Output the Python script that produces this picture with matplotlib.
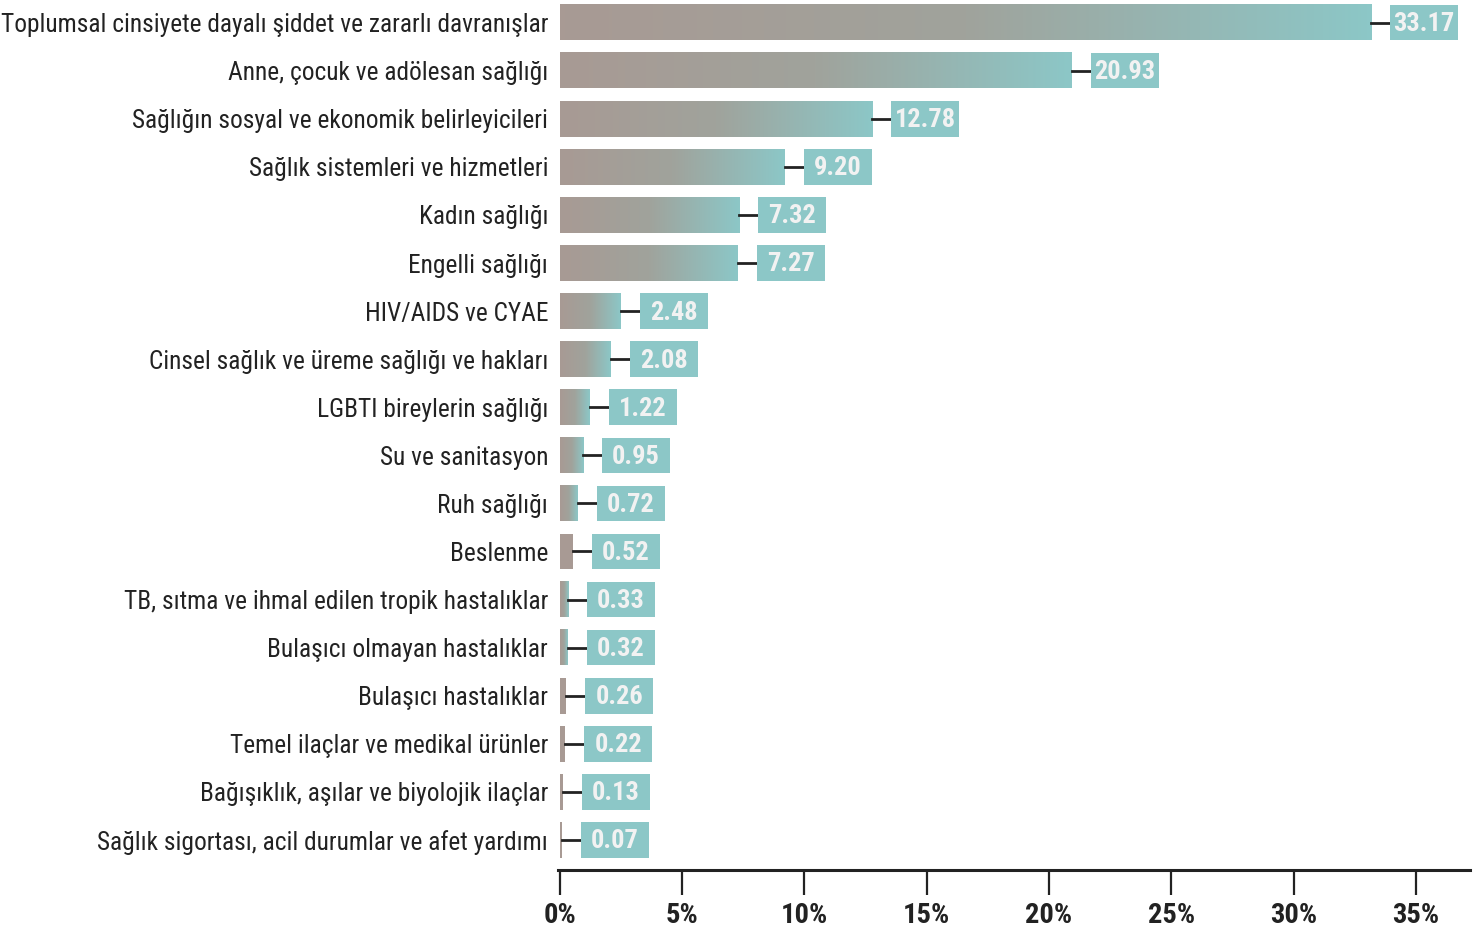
import matplotlib
matplotlib.use("Agg")
import matplotlib.pyplot as plt
import numpy as np
from matplotlib.colors import LinearSegmentedColormap
from matplotlib.patches import Rectangle

plt.rcParams['font.family'] = ['Roboto Condensed', 'DejaVu Sans']

categories = [
    "Toplumsal cinsiyete dayalı şiddet ve zararlı davranışlar",
    "Anne, çocuk ve adölesan sağlığı",
    "Sağlığın sosyal ve ekonomik belirleyicileri",
    "Sağlık sistemleri ve hizmetleri",
    "Kadın sağlığı",
    "Engelli sağlığı",
    "HIV/AIDS ve CYAE",
    "Cinsel sağlık ve üreme sağlığı ve hakları",
    "LGBTI bireylerin sağlığı",
    "Su ve sanitasyon",
    "Ruh sağlığı",
    "Beslenme",
    "TB, sıtma ve ihmal edilen tropik hastalıklar",
    "Bulaşıcı olmayan hastalıklar",
    "Bulaşıcı hastalıklar",
    "Temel ilaçlar ve medikal ürünler",
    "Bağışıklık, aşılar ve biyolojik ilaçlar",
    "Sağlık sigortası, acil durumlar ve afet yardımı",
]
values = [33.17, 20.93, 12.78, 9.20, 7.32, 7.27, 2.48, 2.08, 1.22,
          0.95, 0.72, 0.52, 0.33, 0.32, 0.26, 0.22, 0.13, 0.07]
# bars drawn flat (no gradient) in the original
solid = [False] * 11 + [True, False, False, True, True, True, True]
xticks = [0, 5, 10, 15, 20, 25, 30, 35]
xticklabels = ["0%", "5%", "10%", "15%", "20%", "25%", "30%", "35%"]

brown = "#a89a94"
teal = "#8cc7c7"
dark = "#222222"
cmap = LinearSegmentedColormap.from_list("bt", [brown, "#a0a39c", teal])

fig = plt.figure(figsize=(14.8, 9.31), dpi=100)
ax = fig.add_axes([0.377, 0.0655, 0.616, 0.9345])
ax.set_xlim(-0.08, 37.2)
ax.set_ylim(len(values) - 0.375, -0.47)

h = 0.74
grad = np.linspace(0, 1, 256).reshape(1, -1)
ax_w_px = 0.616 * 1480
upp = (37.2 + 0.08) / ax_w_px  # data units per pixel

for i, (v, s) in enumerate(zip(values, solid)):
    if s:
        ax.add_patch(Rectangle((0, i - h / 2), v, h, color=brown, lw=0))
    else:
        ax.imshow(grad, cmap=cmap, aspect='auto', interpolation='bilinear',
                  extent=(0, v, i + h / 2, i - h / 2), zorder=1)
    gap = 19 * upp
    box_w = 68 * upp
    ax.plot([v, v + gap], [i, i], color=dark, lw=2, zorder=2)
    ax.add_patch(Rectangle((v + gap, i - h / 2), box_w, h, color=teal, lw=0, zorder=2))
    ax.text(v + gap + box_w / 2, i + 0.03, f"{v:.2f}", ha='center', va='center',
            color='#f2f2f2', fontsize=19, fontweight='bold', zorder=3)

ax.set_yticks(range(len(categories)))
ax.set_yticklabels(categories, fontsize=18.3, color=dark)
ax.tick_params(axis='y', length=0, pad=7)

ax.set_xticks(xticks)
ax.set_xticklabels(xticklabels, fontsize=20.5, fontweight='bold', color=dark)
ax.tick_params(axis='x', length=18, width=1.6, color=dark, pad=5)

for sp in ['top', 'right', 'left']:
    ax.spines[sp].set_visible(False)
ax.spines['bottom'].set_linewidth(2.2)
ax.spines['bottom'].set_color(dark)

fig.savefig("out.png", dpi=100)
